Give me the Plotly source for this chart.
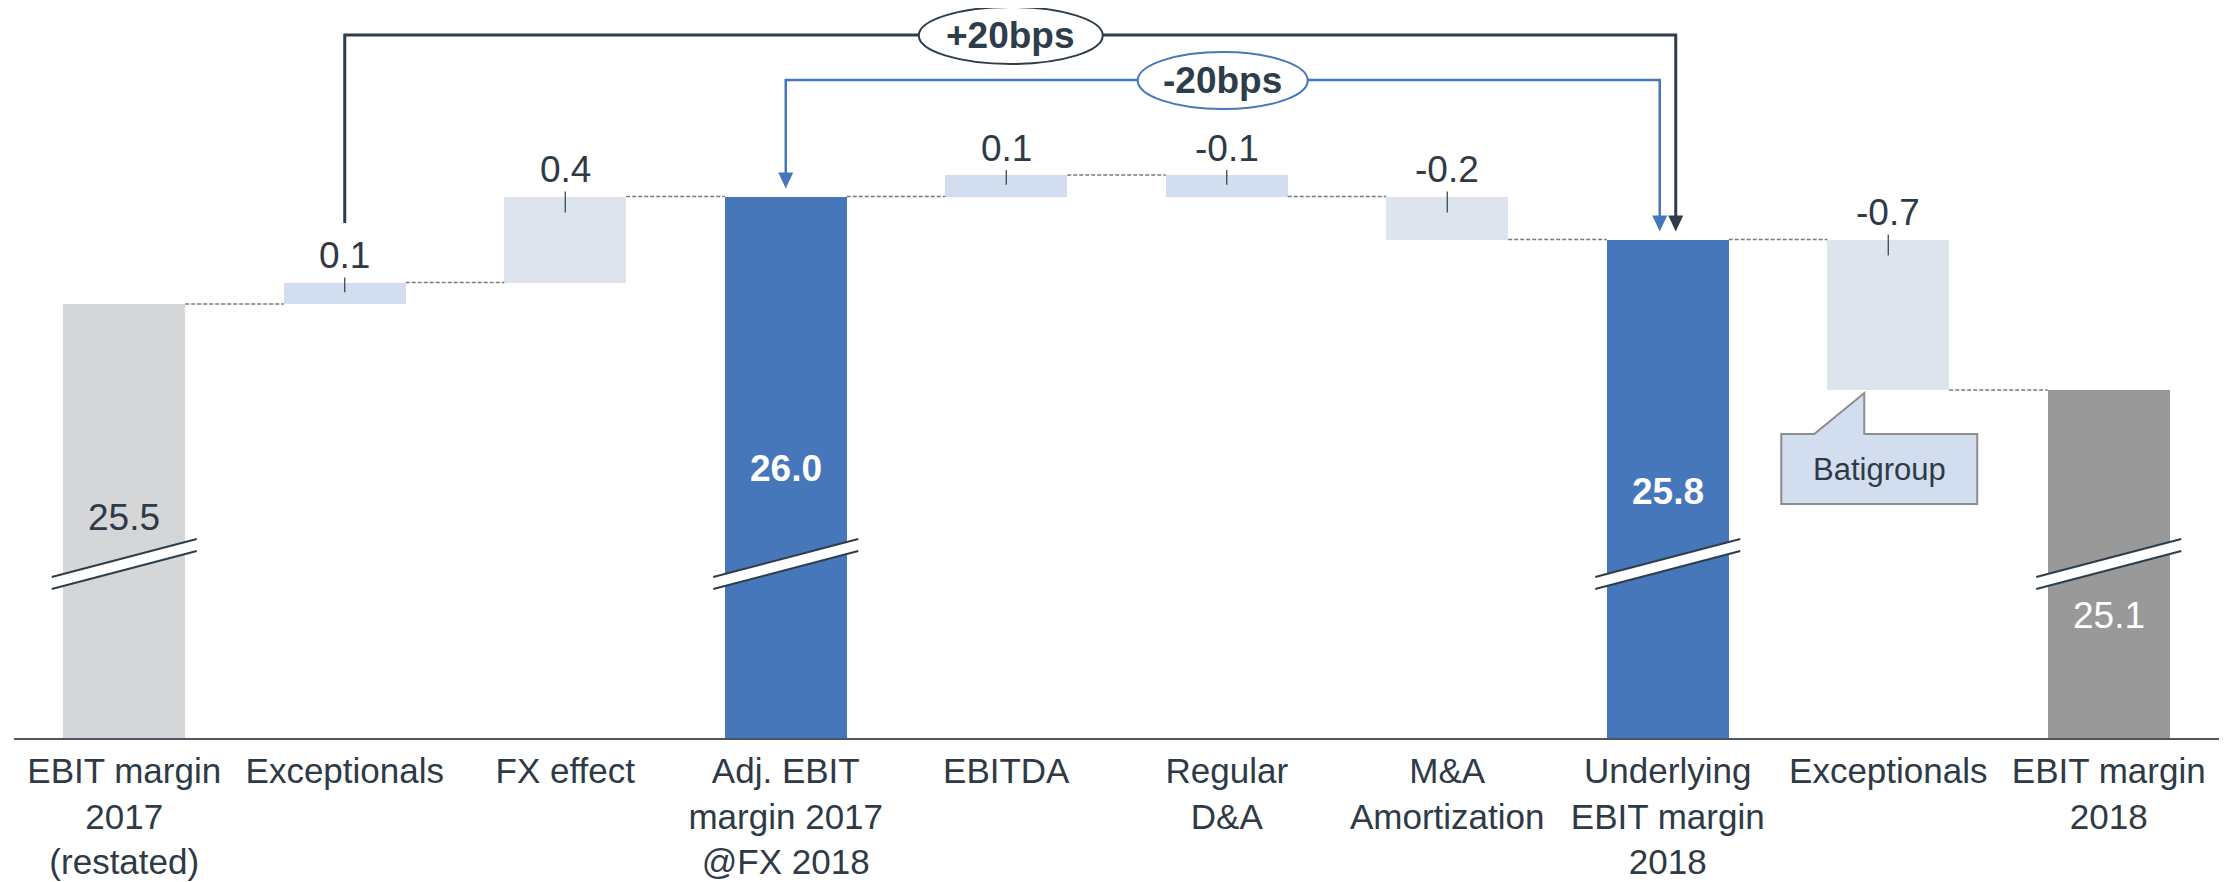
import plotly.graph_objects as go

# ---------------- data ----------------
categories = [
    "EBIT margin<br>2017<br>(restated)",
    "Exceptionals",
    "FX effect",
    "Adj. EBIT<br>margin 2017<br>@FX 2018",
    "EBITDA",
    "Regular<br>D&A",
    "M&A<br>Amortization",
    "Underlying<br>EBIT margin<br>2018",
    "Exceptionals",
    "EBIT margin<br>2018",
]
measures = ["absolute", "relative", "relative", "total", "relative",
            "relative", "relative", "total", "relative", "total"]
values = [25.5, 0.1, 0.4, 26.0, 0.1, -0.1, -0.2, 25.8, -0.7, 25.1]
value_labels = ["25.5", "0.1", "0.4", "26.0", "0.1", "-0.1", "-0.2", "25.8", "-0.7", "25.1"]
bridge_labels = ["+20bps", "-20bps"]
callout_text = "Batigroup"

# ---------------- style ----------------
# The page body has an 8px default margin, so the figure is laid out 8px smaller
# and every page-pixel position is shifted by that offset.
PAGE_OFF = 8
W, H = 2230 - PAGE_OFF, 882 - PAGE_OFF
AXIS_PAGE_Y = 738                 # page y of the category axis
PLOT_LEFT_PAGE, PLOT_RIGHT_PAGE = 14, 2219.5
ML = PLOT_LEFT_PAGE - PAGE_OFF
MR = W - (PLOT_RIGHT_PAGE - PAGE_OFF)
MT = 0
MB = H - (AXIS_PAGE_Y - PAGE_OFF)
PX_PER_UNIT = 215.0               # vertical pixels per margin point
REF_VALUE, REF_PAGE_Y = 25.5, 304  # first bar top
AXIS_MIN = REF_VALUE - (AXIS_PAGE_Y - REF_PAGE_Y) / PX_PER_UNIT
AXIS_MAX = AXIS_MIN + (AXIS_PAGE_Y - PAGE_OFF) / PX_PER_UNIT
PX_PER_CAT = (PLOT_RIGHT_PAGE - PLOT_LEFT_PAGE) / 10.0
BAR_W = 0.553

TXT = "#2E3A46"
FONT = "Liberation Sans, Arial, sans-serif"
BLUE = "#4677BA"
DARK = "#2E3D4A"
VAL_SIZE = 37
CAT_SIZE = 35
total_colors = {0: "#D5D6D8", 3: BLUE, 7: BLUE, 9: "#999999"}
delta_colors = {1: "#D2DEEF", 2: "#DEE4EE", 4: "#D2DEEF", 5: "#D2DEEF",
                6: "#DEE4EE", 8: "#DEE4EE"}
# (colour, bold, page-y of label centre)
total_label_style = {0: (TXT, False, 517), 3: ("white", True, 468),
                     7: ("white", True, 491), 9: ("white", False, 615)}


def dy(px):
    return px / PX_PER_UNIT


def dx(px):
    return px / PX_PER_CAT


def py(page_y):
    return AXIS_MIN + (AXIS_PAGE_Y - page_y) / PX_PER_UNIT


def px(page_x):
    return (page_x - PLOT_LEFT_PAGE) / PX_PER_CAT - 0.5


# ---------------- compute bars ----------------
x = list(range(len(categories)))
bases, heights, ends, colors = [], [], [], []
level = 0.0
for i, (m, v) in enumerate(zip(measures, values)):
    if m in ("absolute", "total"):
        bases.append(0.0)
        heights.append(v)
        level = v
        colors.append(total_colors[i])
    else:
        bases.append(level)
        heights.append(v)
        level = level + v
        colors.append(delta_colors[i])
    ends.append(level)

fig = go.Figure()
fig.add_trace(go.Bar(x=x, y=heights, base=bases, width=BAR_W,
                     marker=dict(color=colors, line=dict(width=0)),
                     hoverinfo="skip", showlegend=False))

shapes = []
annotations = []

# connectors
for i in range(len(x) - 1):
    shapes.append(dict(type="line", xref="x", yref="y",
                       x0=x[i] + BAR_W / 2, x1=x[i + 1] - BAR_W / 2,
                       y0=ends[i], y1=ends[i],
                       line=dict(color="#7A7A7A", width=1.5, dash="4px,2px")))

# labels
for i, m in enumerate(measures):
    if m == "relative":
        top = max(bases[i], bases[i] + heights[i])
        h_px = abs(heights[i]) * PX_PER_UNIT
        shapes.append(dict(type="line", xref="x", yref="y",
                           x0=x[i], x1=x[i], y0=top + dy(5),
                           y1=top - dy(min(16, h_px / 2 - 1)),
                           line=dict(color=TXT, width=1.2)))
        annotations.append(dict(x=x[i], y=top + dy(27), xref="x", yref="y",
                                text=value_labels[i], showarrow=False,
                                yanchor="middle", xanchor="center",
                                font=dict(size=VAL_SIZE, color=TXT, family=FONT)))
    else:
        col, bold, ly = total_label_style[i]
        txt = "<b>%s</b>" % value_labels[i] if bold else value_labels[i]
        annotations.append(dict(x=x[i], y=py(ly), xref="x", yref="y",
                                text=txt, showarrow=False,
                                yanchor="middle", xanchor="center",
                                font=dict(size=VAL_SIZE, color=col, family=FONT)))

# axis break marks on total bars
for i, m in enumerate(measures):
    if m in ("absolute", "total"):
        xl, xr = x[i] - dx(72.5), x[i] + dx(72.5)
        yl_top, yr_top = py(577), py(539)
        yl_bot, yr_bot = py(589), py(551)
        shapes.append(dict(type="path", xref="x", yref="y",
                           path="M%f,%f L%f,%f L%f,%f L%f,%f Z" % (xl, yl_top, xr, yr_top, xr, yr_bot, xl, yl_bot),
                           fillcolor="white", line=dict(width=0)))
        for (ya, yb) in ((yl_top, yr_top), (yl_bot, yr_bot)):
            shapes.append(dict(type="line", xref="x", yref="y",
                               x0=xl, x1=xr, y0=ya, y1=yb,
                               line=dict(color=DARK, width=2)))


def arrowhead(xc, ytip, color):
    hw = dx(7.5)
    hh = dy(16)
    return dict(type="path", xref="x", yref="y",
                path="M%f,%f L%f,%f L%f,%f Z" % (xc - hw, ytip + hh, xc + hw, ytip + hh, xc, ytip),
                fillcolor=color, line=dict(width=0))


# black bridge (+20bps): Exceptionals -> Underlying EBIT margin
bx0 = x[1]
bx1 = x[7] + dx(8)
by_top = py(35)
by_start = py(223)
tip_under = values[7] + dy(8)
shapes.append(dict(type="path", xref="x", yref="y",
                   path="M%f,%f L%f,%f L%f,%f L%f,%f" % (bx0, by_start, bx0, by_top, bx1, by_top, bx1, tip_under + dy(14)),
                   line=dict(color=DARK, width=3)))
shapes.append(arrowhead(bx1, tip_under, DARK))

# blue bridge (-20bps): Adj. EBIT margin -> Underlying
ux0 = x[3]
ux1 = x[7] - dx(8)
uy_top = py(80)
tip_adj = values[3] + dy(8)
shapes.append(dict(type="path", xref="x", yref="y",
                   path="M%f,%f L%f,%f L%f,%f L%f,%f" % (ux0, tip_adj + dy(14), ux0, uy_top, ux1, uy_top, ux1, tip_under + dy(14)),
                   line=dict(color=BLUE, width=2.5)))
shapes.append(arrowhead(ux0, tip_adj, BLUE))
shapes.append(arrowhead(ux1, tip_under, BLUE))

# ellipses
for (cx_px, cy_px, w_px, col, lab) in ((1011, 35.5, 184, DARK, bridge_labels[0]),
                                       (1223, 80.5, 170, BLUE, bridge_labels[1])):
    cx = px(cx_px)
    cy = py(cy_px)
    shapes.append(dict(type="circle", xref="x", yref="y",
                       x0=cx - dx(w_px / 2), x1=cx + dx(w_px / 2),
                       y0=cy - dy(28.5), y1=cy + dy(28.5),
                       fillcolor="white", line=dict(color=col, width=2)))
    annotations.append(dict(x=cx, y=cy, xref="x", yref="y", text="<b>%s</b>" % lab,
                            showarrow=False, yanchor="middle", xanchor="center",
                            font=dict(size=VAL_SIZE, color=DARK, family=FONT)))

# Batigroup callout under the Exceptionals bar
ci = 8
apex_x = x[ci] - dx(24)
apex_y = ends[ci] - dy(3)
bl, br = x[ci] - dx(107), x[ci] + dx(89)
bt, bb = ends[ci] - dy(44), ends[ci] - dy(114)
t1 = x[ci] - dx(74)
shapes.append(dict(type="path", xref="x", yref="y",
                   path="M%f,%f L%f,%f L%f,%f L%f,%f L%f,%f L%f,%f L%f,%f Z" % (
                       bl, bt, t1, bt, apex_x, apex_y, apex_x, bt, br, bt, br, bb, bl, bb),
                   fillcolor="#D2DEEF", line=dict(color="#8C8C8C", width=2)))
annotations.append(dict(x=(bl + br) / 2, y=(bt + bb) / 2, xref="x", yref="y",
                        text=callout_text, showarrow=False,
                        yanchor="middle", xanchor="center",
                        font=dict(size=31, color=TXT, family=FONT)))

fig.update_layout(
    width=W, height=H,
    margin=dict(l=ML, r=MR, t=MT, b=MB, pad=0),
    paper_bgcolor="white", plot_bgcolor="white",
    shapes=shapes, annotations=annotations,
    bargap=0,
    xaxis=dict(range=[-0.5, 9.5], tickvals=x, ticktext=categories,
               showgrid=False, zeroline=False, showline=True,
               linecolor="#4D5661", linewidth=2, ticks="",
               tickfont=dict(size=CAT_SIZE, color=TXT, family=FONT),
               ticklabelstandoff=1, fixedrange=True, automargin=False),
    yaxis=dict(range=[AXIS_MIN, AXIS_MAX], visible=False, fixedrange=True),
    font=dict(family=FONT, color=TXT),
)

fig.write_html("out.html")
